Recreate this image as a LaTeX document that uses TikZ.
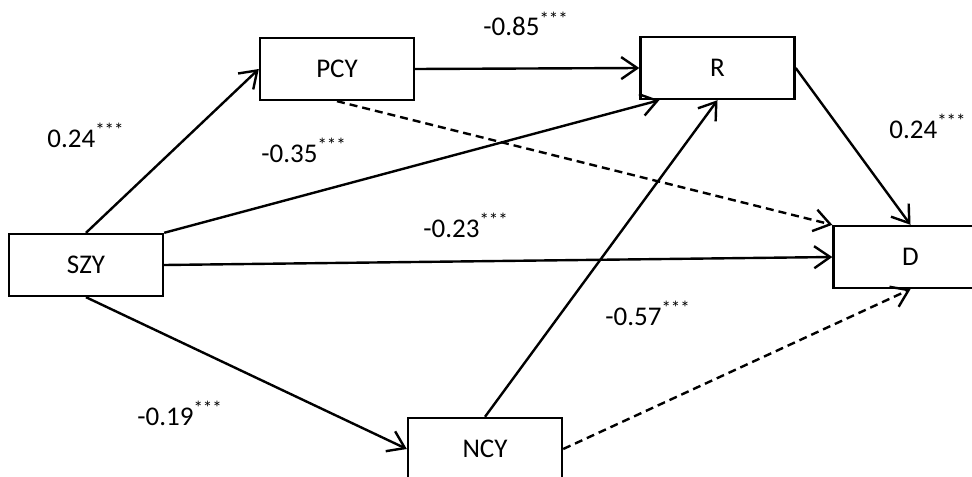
\documentclass[tikz,border=0pt]{standalone}
\usepackage{fontspec}
\setmainfont{Carlito}
\usetikzlibrary{arrows.meta,calc}
\tikzset{
  varbox/.style={draw, line width=1.2pt, minimum width=77pt, minimum height=31pt, inner sep=0pt, font=\fontsize{13.5}{16}\selectfont},
  coef/.style={anchor=base west, inner sep=0pt, font=\fontsize{13.5}{16}\selectfont},
  link/.style={line width=1.2pt, -{Straight Barb[length=8pt,width=11pt,line width=1.2pt]}},
  dashlink/.style={link, dash pattern=on 4pt off 2.5pt},
}
\begin{document}
\begin{tikzpicture}[x=0.5pt,y=-0.5pt]
\useasboundingbox (0,0) rectangle (972,476);
\clip (0,0) rectangle (972,476);
\fill[white] (0,0) rectangle (972,476);
% boxes
\node[varbox] (szy) at (86,265) {SZY};
\node[varbox] (pcy) at (337,69) {PCY};
\node[varbox] (r) at (717.5,68) {R};
\node[varbox] (d) at (910.5,257) {D};
\node[varbox] (ncy) at (485,449) {NCY};
% connectors
\draw[link] (szy.north) -- (pcy.west);
\draw[link] (szy.north east) -- ($(r.south west)+(20,0)$);
\draw[link] (szy.east) -- (d.west);
\draw[link] (szy.south) -- (ncy.west);
\draw[link] (pcy.east) -- (r.west);
\draw[dashlink] (pcy.south) -- (d.north west);
\draw[link] (r.east) -- (d.north);
\draw[link] (ncy.north) -- (r.south);
\draw[dashlink] (ncy.east) -- (d.south);
% coefficients
\node[coef] (c1) at (483,36) {-0.85\textsuperscript{***}};
\node[coef] (c2) at (47,147) {0.24\textsuperscript{***}};
\node[coef] (c3) at (261,162) {-0.35\textsuperscript{***}};
\node[coef] (c4) at (889,138) {0.24\textsuperscript{***}};
\node[coef] (c5) at (423,237) {-0.23\textsuperscript{***}};
\node[coef] (c6) at (605,325) {-0.57\textsuperscript{***}};
\node[coef] (c7) at (137,425) {-0.19\textsuperscript{***}};
\end{tikzpicture}
\end{document}
